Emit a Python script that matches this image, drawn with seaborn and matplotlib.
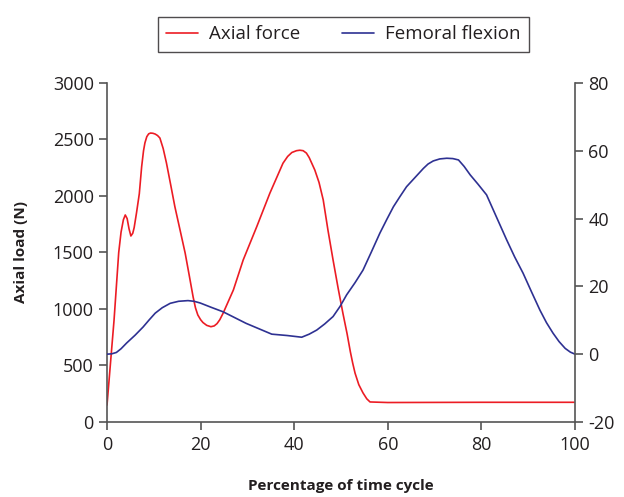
import pandas as pd
import matplotlib
matplotlib.use('Agg')
import matplotlib.pyplot as plt
import seaborn as sns

# Data
force_pct = [0, 0.8, 1.5, 2.0, 2.5, 3.0, 3.5, 3.9, 4.3, 4.7, 5.1, 5.5, 5.8, 6.3, 6.9, 7.4, 7.8,
             8.1, 8.5, 8.9, 9.3, 9.8, 10.3, 10.8, 11.3, 12.0, 12.7, 13.6, 14.5, 15.6, 16.7, 17.6,
             18.4, 18.9, 19.4, 20.0, 20.5, 21.3, 22.2, 22.9, 23.5, 24.1, 24.8, 27, 29.1, 32, 34.8,
             37.6, 38.6, 39.5, 40.5, 41.2, 41.9, 42.6, 43.2, 44.4, 45.3, 46.2, 47.2, 48.3, 49.4,
             50.4, 51.3, 52, 52.5, 53, 53.8, 54.7, 55.5, 56.2, 60, 70, 80, 90, 99.8]
force_n = [150, 550, 900, 1200, 1500, 1680, 1790, 1832, 1800, 1710, 1646, 1670, 1720, 1850, 2020,
           2259, 2400, 2470, 2525, 2550, 2557, 2555, 2548, 2535, 2513, 2420, 2292, 2100, 1905,
           1700, 1494, 1290, 1106, 1010, 947, 905, 880, 855, 843, 850, 870, 905, 962, 1168, 1434,
           1729, 2025, 2290, 2350, 2385, 2401, 2405, 2401, 2380, 2340, 2230, 2120, 1965, 1700,
           1434, 1180, 963, 780, 620, 520, 432, 330, 257, 205, 177, 172, 173, 174, 174, 174]

flex_pct = [0, 1, 2, 3, 4.2, 6, 7.7, 9, 10.3, 11.8, 13.5, 15.3, 17.3, 18.6, 19.9, 22.3, 24.8,
            29.7, 35.2, 38.5, 41.6, 43.2, 44.8, 46.5, 48.3, 49.8, 51.2, 53, 54.7, 56.5, 58.3,
            59.8, 61.2, 62.6, 64.0, 65.8, 67.6, 68.6, 69.7, 71.1, 72.6, 73.9, 75.1, 76.3, 77.6,
            79.3, 81.1, 83.2, 85.4, 87.1, 88.9, 90.7, 92.5, 93.9, 95.3, 96.6, 97.9, 99, 100]
flex_deg = [0, 0.1, 0.5, 1.6, 3.3, 5.6, 8, 10.1, 12.1, 13.7, 15.0, 15.6, 15.8, 15.6, 15.1,
            13.8, 12.5, 9.1, 5.9, 5.5, 5.0, 5.9, 7.1, 8.9, 11.1, 14.1, 17.5, 21.1, 24.8, 30.2,
            35.7, 39.8, 43.5, 46.5, 49.4, 52.1, 54.8, 56.1, 57, 57.6, 57.8, 57.7, 57.3, 55.4,
            52.9, 50.1, 47, 40.5, 33.7, 28.7, 23.9, 18.4, 13.0, 9.3, 6.2, 3.7, 1.7, 0.6, 0]

x_ticks = [0, 20, 40, 60, 80, 100]
left_ticks = [0, 500, 1000, 1500, 2000, 2500, 3000]
right_ticks = [-20, 0, 20, 40, 60, 80]

red = '#ec1c24'
blue = '#2e3192'
spine = '#555555'

sns.set_theme(style='white')
plt.rcParams['font.family'] = ['Open Sans', 'DejaVu Sans']
plt.rcParams['axes.unicode_minus'] = False

force_df = pd.DataFrame({'pct': force_pct, 'val': force_n})
flex_df = pd.DataFrame({'pct': flex_pct, 'val': flex_deg})

fig = plt.figure(figsize=(6.24, 4.97), dpi=100)
ax = fig.add_axes([0.1715, 0.151, 0.75, 0.682])
ax2 = ax.twinx()

sns.lineplot(data=force_df, x='pct', y='val', ax=ax, color=red, lw=1.2, label='Axial force', legend=False)
sns.lineplot(data=flex_df, x='pct', y='val', ax=ax2, color=blue, lw=1.2, label='Femoral flexion', legend=False)

ax.set_xlim(0, 100)
ax.set_ylim(0, 3000)
ax2.set_ylim(-20, 80)
ax.set_xticks(x_ticks)
ax.set_yticks(left_ticks)
ax2.set_yticks(right_ticks)

for a in (ax, ax2):
    for s in a.spines.values():
        s.set_color(spine)
        s.set_linewidth(1.2)
    a.spines['top'].set_visible(False)
    a.tick_params(length=6, width=1.2, color=spine, labelsize=13, labelcolor='#231f20')
ax.spines['right'].set_visible(False)
ax2.spines['left'].set_visible(False)
ax2.spines['bottom'].set_visible(False)
ax.tick_params(axis='x', bottom=True, pad=4)
ax.tick_params(axis='y', left=True)
ax2.tick_params(axis='y', right=True)

ax.set_xlabel('Percentage of time cycle', fontsize=11, fontweight='bold', labelpad=18, color='#231f20')
ax.set_ylabel('Axial load (N)', fontsize=11, fontweight='bold', labelpad=18, color='#231f20')
ax2.set_ylabel('')

h1, l1 = ax.get_legend_handles_labels()
h2, l2 = ax2.get_legend_handles_labels()
leg = fig.legend(h1 + h2, l1 + l2, loc='upper center', bbox_to_anchor=(0.55, 0.985), ncol=2,
                 fontsize=13.5, frameon=True, fancybox=False, edgecolor='#231f20',
                 handlelength=1.7, handletextpad=0.6, columnspacing=2.2, borderpad=0.45)
leg.get_frame().set_linewidth(1.0)
for t in leg.get_texts():
    t.set_color('#231f20')

fig.savefig('out.png', dpi=100)
